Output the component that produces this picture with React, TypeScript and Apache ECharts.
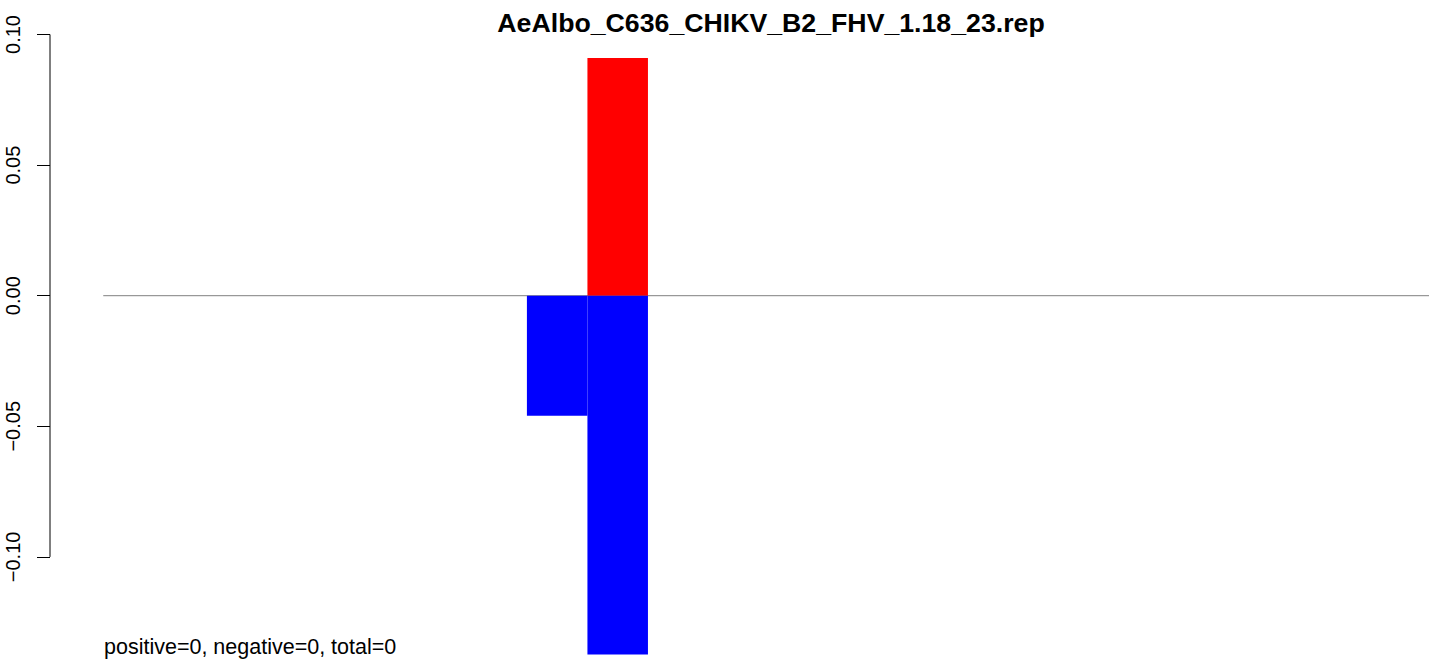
import React, { useEffect, useRef } from "react";
import * as echarts from "echarts";

const titleText = "AeAlbo_C636_CHIKV_B2_FHV_1.18_23.rep";
const footerText = "positive=0, negative=0, total=0";
// bin left edges (bar width = 1 unit)
const binStarts = [8, 9];
const positiveValues = [0, 0.091];
const negativeValues = [-0.046, -0.1374];
const xRange = [1, 23];
const yTicks = [-0.1, -0.05, 0, 0.05, 0.1];

const FONT = '"Liberation Sans", Arial, Helvetica, sans-serif';

export default function App() {
  const ref = useRef<HTMLDivElement>(null);
  useEffect(() => {
    if (!ref.current) return;
    const chart = echarts.init(ref.current, null, { renderer: "svg" });
    const ext = (xRange[1] - xRange[0]) * 0.04;
    const xMin = xRange[0] - ext;
    const xMax = xRange[1] + ext;

    const barData: any[] = [];
    binStarts.forEach((b, i) => {
      if (positiveValues[i] !== 0) barData.push([b, b + 1, positiveValues[i], "#ff0000"]);
      if (negativeValues[i] !== 0) barData.push([b, b + 1, negativeValues[i], "#0000ff"]);
    });

    const option: any = {
      animation: false,
      title: {
        text: titleText,
        left: 766,
        textAlign: "center",
        top: 4,
        textStyle: { fontFamily: FONT, fontWeight: "bold", fontSize: 26.7, color: "#000" },
      },
      graphic: [
        {
          type: "text",
          left: 104,
          top: 636,
          style: { text: footerText, fontFamily: FONT, fontSize: 21.5, fill: "#000" },
        },
      ],
      grid: {
        left: 50,
        right: -59,
        top: 34.5,
        bottom: -28.5,
        containLabel: false,
        outerBoundsMode: "none",
      },
      xAxis: {
        type: "value",
        min: xMin,
        max: xMax,
        show: false,
      },
      yAxis: {
        type: "value",
        min: -0.15,
        max: 0.1,
        interval: 0.05,
        axisLine: { show: false },
        splitLine: { show: false },
        axisTick: { show: true, length: 13, lineStyle: { color: "#000", width: 1 } },
        axisLabel: {
          rotate: 90,
          margin: 27,
          fontFamily: FONT,
          fontSize: 20,
          color: "#000",
          showMinLabel: false,
          formatter: (v: number) => {
            const s = Math.abs(v).toFixed(2);
            return v < -1e-9 ? "\u2212" + s : s;
          },
        },
      },
      series: [
        {
          type: "line",
          data: [
            [xRange[0], 0],
            [xRange[1], 0],
          ],
          symbol: "none",
          lineStyle: { color: "#808080", width: 1 },
          z: 1,
          silent: true,
        },
        {
          type: "custom",
          data: barData,
          z: 2,
          renderItem: (params: any, api: any) => {
            const p0 = api.coord([api.value(0), api.value(2)]);
            const p1 = api.coord([api.value(1), 0]);
            const color = barData[params.dataIndex][3];
            return {
              type: "rect",
              shape: {
                x: Math.min(p0[0], p1[0]),
                y: Math.min(p0[1], p1[1]),
                width: Math.abs(p1[0] - p0[0]),
                height: Math.abs(p1[1] - p0[1]),
              },
              style: { fill: color },
            };
          },
        },
        {
          type: "line",
          data: [
            [xMin, yTicks[0]],
            [xMin, yTicks[yTicks.length - 1]],
          ],
          symbol: "none",
          clip: false,
          lineStyle: { color: "#000", width: 1 },
          z: 3,
          silent: true,
        },
      ],
    };
    chart.setOption(option);
    return () => chart.dispose();
  }, []);
  return (
    <div
      ref={ref}
      style={{ position: "fixed", left: 0, top: 0, width: 1429, height: 659, background: "#fff" }}
    />
  );
}
